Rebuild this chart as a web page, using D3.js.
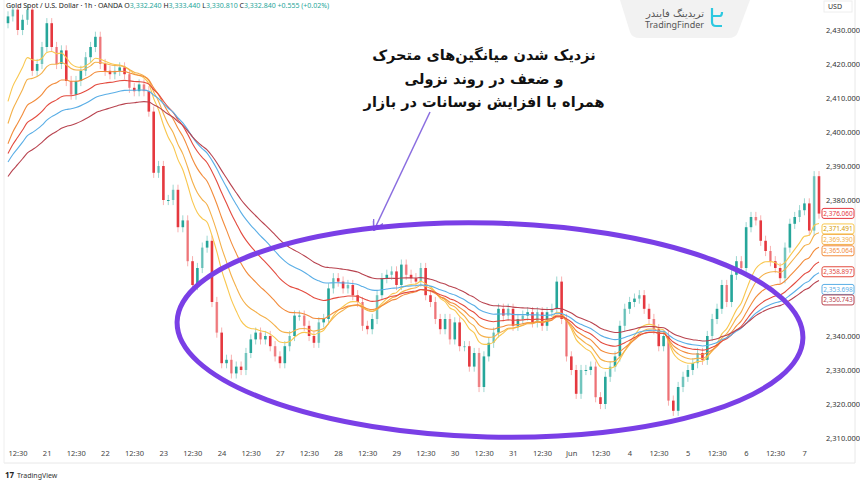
<!DOCTYPE html>
<html><head><meta charset="utf-8">
<script src="https://cdn.jsdelivr.net/npm/d3@7"></script>
<style>body{margin:0;background:#fff}svg{display:block;font-family:"Noto Sans",Roboto,sans-serif}</style>
</head><body><svg id="c" width="860" height="484"></svg>
<script>
const closes = [2434,2436,2430,2433,2436,2418,2420,2425,2432,2425,2420,2424,2415,2411,2415,2418,2422,2425,2428,2420,2418,2417,2418,2419,2417,2413,2412,2414,2412,2406,2388,2390,2380,2380,2383,2372,2374,2362,2355,2360,2366,2368,2350,2341,
2332,2333,2329,2331,2330,2335,2339,2341,2339,2340,2337,2334,2332,2337,2340,2346,2346,2343,2340,2338,2344,2345,2354,2357,2356,2354,2355,2352,2350,2343,2342,2345,2352,2357,2358,2359,2355,2361,2358,2357,2356,2360,
2352,2350,2345,2342,2345,2339,2344,2337,2337,2331,2335,2325,2334,2338,2341,2348,2346,2348,2343,2345,2346,2347,2344,2347,2343,2347,2348,2356,2345,2334,2330,2323,2330,2330,2331,2322,2320,2328,2331,2334,2343,2348,2350,2351,2352,
2348,2345,2342,2337,2340,2321,2318,2325,2328,2330,2332,2335,2333,2340,2345,2348,2355,2350,2358,2362,2360,2372,2375,2374,2368,2365,2362,2360,2357,2366,2373,2375,2377,2379,2371,2387,2376];
const firstOpen = 2432;
const maNames = ["yellow","gold","orange","red","blue","darkred"];
const maPeriods = [11,15,22,31,40,50];
const maSeeds = [2404,2398,2393,2391,2389,2385];
const maColors = ["#f9c74f","#f4b04a","#f28c3c","#e34b3f","#5aaee6","#b8434f"];
const maLabels = ["2,371.491","2,369.390","2,365.064","2,358.897","2,353.698","2,350.743"];
const lastLabel = "2,376.060";
const priceTicks = d3.range(2430,2309,-10);
const tickLabels = ["12:30","21","12:30","22","12:30","23","12:30","24","12:30","27","12:30","28","12:30","29","12:30","30","12:30","31","12:30","Jun","12:30","4","12:30","5","12:30","6","12:30","7"];

const svg = d3.select("#c");
const x = d3.scaleLinear().domain([0,167]).range([8,819]);
const y = d3.scaleLinear().domain([2310,2430]).range([438,30]);
const fmt = d3.format(",.3f");

svg.append("line").attr("x1",855).attr("x2",855).attr("y1",0).attr("y2",463).attr("stroke","#e8e8e8");
svg.append("line").attr("x1",4).attr("x2",855).attr("y1",463).attr("y2",463).attr("stroke","#e8e8e8");
svg.append("line").attr("x1",4).attr("x2",4).attr("y1",0).attr("y2",463).attr("stroke","#eee");
svg.append("rect").attr("x",824).attr("y",1).attr("width",28).attr("height",11).attr("fill","#fff").attr("stroke","#eee");
svg.append("text").attr("x",828).attr("y",9).attr("font-size",7).attr("fill","#333").text("USD");

const lbls=[{v:2376.06,t:lastLabel,c:"#e5383f"}].concat(maLabels.map((t,k)=>({v:+t.replace(",",""),t,c:maColors[k]})));
lbls.sort((a,b)=>b.v-a.v);
lbls.forEach((l,i)=>{l.py=y(l.v); if(i&&l.py<lbls[i-1].py+10.5) l.py=lbls[i-1].py+10.5;});
const shownTicks = priceTicks.filter(p=>!lbls.some(l=>Math.abs(l.py-y(p))<11));
svg.selectAll(".pt").data(shownTicks).join("text").attr("x",826).attr("y",d=>y(d)+3)
  .attr("font-size",7.5).attr("fill","#333").text(d=>fmt(d));
svg.selectAll(".xt").data(tickLabels).join("text").attr("x",(d,i)=>x(2.06+6*i)).attr("y",456)
  .attr("text-anchor","middle").attr("font-size",7.5).attr("fill","#444").text(d=>d);

const cands = closes.map((c,i)=>{const o=i?closes[i-1]:firstOpen;return {i,o,c};});
const g = svg.append("g");
g.selectAll(".w").data(cands).join("line")
  .attr("x1",d=>x(d.i)).attr("x2",d=>x(d.i))
  .attr("y1",d=>y(Math.max(d.o,d.c)+1.5)).attr("y2",d=>y(Math.min(d.o,d.c)-1.5))
  .attr("stroke",d=>d.c>=d.o?"#26a69a":"#ef5350").attr("stroke-opacity",0.45);
g.selectAll(".b").data(cands).join("rect")
  .attr("x",d=>x(d.i)-1.3).attr("width",2.6)
  .attr("y",d=>y(Math.max(d.o,d.c))).attr("height",d=>Math.max(1,Math.abs(y(d.o)-y(d.c))))
  .attr("fill",d=>d.c>=d.o?"#26a69a":"#e5383f").attr("fill-opacity",(d,i)=>i%3===1?0.55:1);

maPeriods.forEach((p,k)=>{
  const a=2/(p+1); let e=maSeeds[k]; const vals=closes.map(c=>(e=e+a*(c-e)));
  svg.append("path").datum(vals).attr("fill","none").attr("stroke",maColors[k]).attr("stroke-width",1.1)
    .attr("d",d3.line().x((d,i)=>x(i)).y(d=>y(d)).curve(d3.curveMonotoneX));
});

lbls.forEach(l=>{
  svg.append("rect").attr("x",822).attr("y",l.py-5).attr("width",32).attr("height",10).attr("rx",2)
   .attr("fill","#fff").attr("stroke",l.c);
  svg.append("text").attr("x",838).attr("y",l.py+2.5).attr("text-anchor","middle").attr("font-size",6.5)
   .attr("fill",l.c==="#f9c74f"?"#d49a00":l.c).text(l.t);
});

const h=svg.append("text").attr("x",6).attr("y",8).attr("font-size",7).attr("fill","#222");
h.append("tspan").text("Gold Spot / U.S. Dollar · 1h · OANDA  ");
[["O","3,332.240"],["H","3,333.440"],["L","3,330.810"],["C","3,332.840"]].forEach(([a,b])=>{
  h.append("tspan").text(a); h.append("tspan").attr("fill","#26a69a").text(b+"  ");});
h.append("tspan").attr("fill","#26a69a").text("+0.555 (+0.02%)");

svg.append("path").attr("d","M620,0 L750,0 L738,32 Q736,38 728,38 L640,38 Q632,38 630,32 Z").attr("fill","#f2f2f2");
svg.append("text").attr("x",704).attr("y",17).attr("text-anchor","end").attr("font-size",10).attr("fill","#555")
  .attr("font-family","DejaVu Sans").text("تریدینگ فایندر");
svg.append("text").attr("x",704).attr("y",28).attr("text-anchor","end").attr("font-size",9).attr("fill","#555").text("TradingFinder");
svg.append("path").attr("d","M712,8 L712,22 Q712,26 716,26 L722,26 M712,16 L720,16 Q722,16 722,12").attr("fill","none").attr("stroke","#2cc8e0").attr("stroke-width",2.2);

const lines=["نزدیک شدن میانگین‌های متحرک","و ضعف در روند نزولی","همراه با افزایش نوسانات در بازار"];
lines.forEach((t,i)=>svg.append("text").attr("x",484).attr("y",60+i*23.5).attr("text-anchor","middle")
  .attr("font-family","DejaVu Sans").attr("font-weight","bold").attr("font-size",14.5).attr("fill","#111").text(t));
svg.append("defs").append("marker").attr("id","ar").attr("viewBox","0 0 10 10").attr("refX",5).attr("refY",5)
  .attr("markerWidth",7).attr("markerHeight",7).attr("orient","auto")
  .append("path").attr("d","M0,0 L10,5 L0,10").attr("fill","none").attr("stroke","#8a6de0").attr("stroke-width",1.5);
svg.append("line").attr("x1",430).attr("y1",112).attr("x2",376).attr("y2",226).attr("stroke","#8a6de0").attr("stroke-width",1.5).attr("marker-end","url(#ar)");
svg.append("ellipse").attr("cx",490).attr("cy",330).attr("rx",313).attr("ry",107).attr("transform","rotate(1.5 490 330)")
  .attr("fill","none").attr("stroke","#7a3fe6").attr("stroke-width",5);

svg.append("text").attr("x",5).attr("y",478).attr("font-size",8).attr("font-weight","bold").attr("fill","#222").text("17");
svg.append("text").attr("x",17).attr("y",478).attr("font-size",7).attr("fill","#333").text("TradingView");
</script></body></html>
